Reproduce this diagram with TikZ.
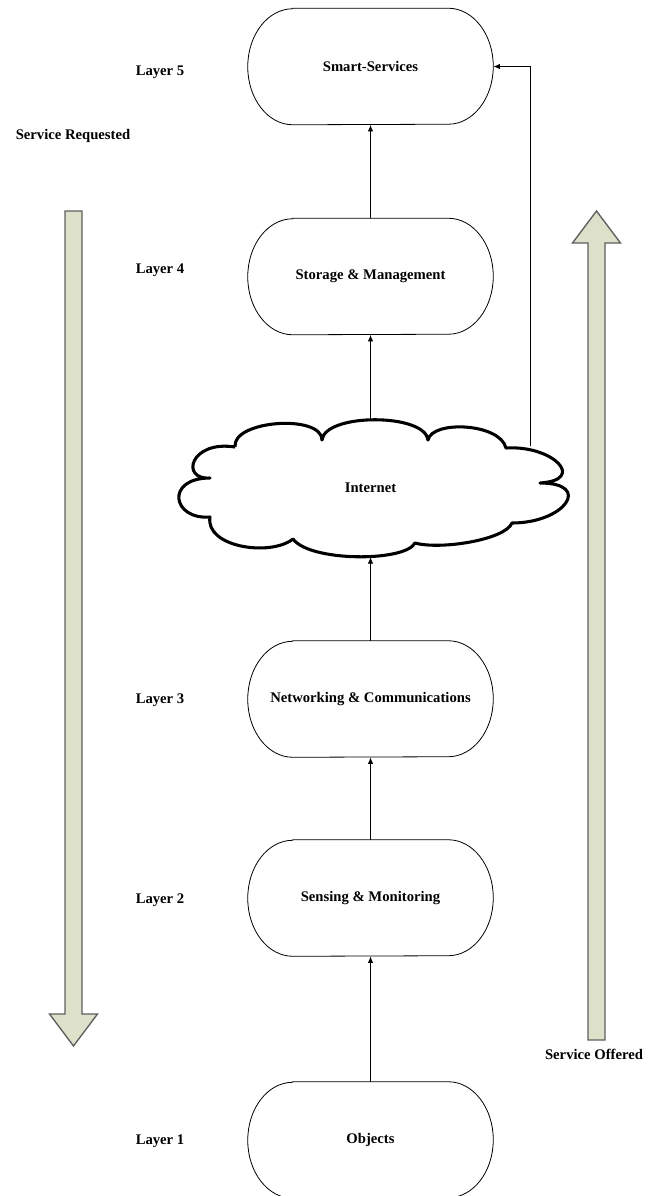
\documentclass[tikz,border=0pt]{standalone}
\usepackage{fontspec}
\setmainfont{Liberation Serif}
\usetikzlibrary{arrows.meta}
\definecolor{blockfill}{RGB}{221,225,201}
\definecolor{blockedge}{RGB}{95,95,95}
\tikzset{
  boxtext/.style={draw=none, minimum width=183.75pt, minimum height=87pt, inner sep=0pt, font=\bfseries\fontsize{11}{13}\selectfont},
  boxline/.style={draw=black, line width=0.6pt},
  lbl/.style={font=\bfseries\fontsize{11}{13}\selectfont, inner sep=0pt},
  conn/.style={line width=0.6pt, -{Latex[length=5pt,width=4pt]}},
  cloudline/.style={draw=black, line width=2.3pt, line join=round},
  blockarrow/.style={fill=blockfill, draw=blockedge, line width=1pt, line join=miter},
}
\newcommand{\stadiumbox}[4]{%
  \node[boxtext] (#1) at (#2,#3) {#4};
  \draw[boxline] ([xshift=33.75pt]#1.north west) -- ([xshift=-33.75pt]#1.north east)
    arc[start angle=90,end angle=-90,x radius=33.75pt,y radius=43.5pt]
    -- ([xshift=33.75pt]#1.south west)
    arc[start angle=270,end angle=90,x radius=33.75pt,y radius=43.5pt] -- cycle;
}
\begin{document}
\begin{tikzpicture}[x=0.75pt,y=-0.75pt]
\useasboundingbox (0,0) rectangle (648,1196);

% block arrows
\draw[blockarrow] (65,211) -- (82,211) -- (82,1014) -- (97.5,1014) -- (73.5,1046) -- (49.5,1014) -- (65,1014) -- cycle;
\draw[blockarrow] (588,1040) -- (588,243) -- (572.5,243) -- (596.5,211) -- (620.5,243) -- (605,243) -- (605,1040) -- cycle;

% boxes
\stadiumbox{smart}{370.5}{66.5}{Smart-Services}
\stadiumbox{storage}{370.5}{276.5}{Storage \& Management}
\stadiumbox{network}{370.5}{699}{Networking \& Communications}
\stadiumbox{sensing}{370.5}{898}{Sensing \& Monitoring}
\stadiumbox{objects}{370.5}{1140}{Objects}

% cloud
\draw[cloudline] (235,447)
  .. controls (232,420) and (322,414) .. (322,440)
  .. controls (325,413) and (425,413) .. (428,440)
  .. controls (432,420) and (500,423) .. (506,448)
  .. controls (553,445) and (587,480) .. (540,483)
  .. controls (593,483) and (565,523) .. (512,523)
  .. controls (505,540) and (440,550) .. (415,543)
  .. controls (405,562) and (310,562) .. (293,539)
  .. controls (270,557) and (205,547) .. (210,517)
  .. controls (172,520) and (165,478) .. (210,478)
  .. controls (180,480) and (190,440) .. (235,447);
\node[lbl] (internet) at (370.5,488) {Internet};
\coordinate (cloudtop) at (370.5,420);
\coordinate (cloudbot) at (370.5,557);
\coordinate (cloudright) at (530,446);
\coordinate (corner) at (530,66.5);

% labels
\node[lbl] (l5) at (160,72) {Layer 5};
\node[lbl] (l4) at (160,270) {Layer 4};
\node[lbl] (l3) at (160,700) {Layer 3};
\node[lbl] (l2) at (160,900) {Layer 2};
\node[lbl] (l1) at (160,1141) {Layer 1};
\node[lbl] (sreq) at (73,136) {Service Requested};
\node[lbl] (soff) at (594,1054) {Service Offered};

% connectors
\draw[conn] (objects.north) -- (sensing.south);
\draw[conn] (sensing.north) -- (network.south);
\draw[conn] (network.north) -- (cloudbot);
\draw[conn] (cloudtop) -- (storage.south);
\draw[conn] (storage.north) -- (smart.south);
\draw[conn] (cloudright) -- (corner) -- (smart.east);
\end{tikzpicture}
\end{document}
